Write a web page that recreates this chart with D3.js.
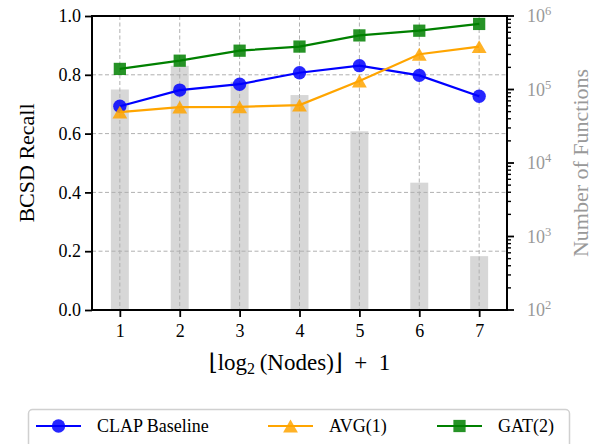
<!DOCTYPE html>
<html><head><meta charset="utf-8">
<script src="https://cdn.jsdelivr.net/npm/d3@7/dist/d3.min.js"></script>
<style>body{margin:0;background:#fff}svg{display:block}text{font-family:"Liberation Serif","DejaVu Serif",serif}</style>
</head><body>
<svg id="c" width="595" height="444"></svg>
<script>
const categories = [1, 2, 3, 4, 5, 6, 7];
const clapBaseline = [0.693, 0.748, 0.768, 0.807, 0.831, 0.798, 0.727];
const avg1 = [0.673, 0.690, 0.691, 0.697, 0.779, 0.870, 0.896];
const gat2 = [0.820, 0.848, 0.882, 0.896, 0.934, 0.950, 0.973];
const numFunctions = [100000, 210000, 127000, 84000, 27000, 5400, 540];
const leftTicks = [0, 0.2, 0.4, 0.6, 0.8, 1.0];
const rightTicks = [1e2, 1e3, 1e4, 1e5, 1e6];
const seriesNames = ["CLAP Baseline", "AVG(1)", "GAT(2)"];

const svg = d3.select("#c");
const L = 92, R = 507, T = 16, B = 310;
const x = d3.scaleLinear().domain([0.535, 7.465]).range([L, R]);
const y = d3.scaleLinear().domain([0, 1]).range([B, T]);
const y2 = d3.scaleLog().domain([1e2, 1e6]).range([B, T]);
const barW = x(1.15) - x(0.85);

// bars
svg.append("g").selectAll("rect").data(categories).join("rect")
  .attr("x", (d) => x(d) - barW / 2)
  .attr("width", barW)
  .attr("y", (d, i) => y2(numFunctions[i]))
  .attr("height", (d, i) => B - y2(numFunctions[i]))
  .attr("fill", "#d7d7d7");

// grid
const grid = svg.append("g").attr("stroke", "#b0b0b0").attr("stroke-width", 1).attr("stroke-dasharray", "4,2.5");
grid.selectAll(".gx").data(categories).join("line")
  .attr("x1", (d) => x(d)).attr("x2", (d) => x(d)).attr("y1", T).attr("y2", B);
grid.selectAll(".gy").data(leftTicks.slice(1, -1)).join("line")
  .attr("x1", L).attr("x2", R).attr("y1", (d) => y(d)).attr("y2", (d) => y(d));

// series
const series = [
  { name: seriesNames[0], vals: clapBaseline, color: "#0000ff", mark: d3.symbolCircle, size: 140 },
  { name: seriesNames[1], vals: avg1, color: "#ffa500", mark: d3.symbolTriangle, size: 95 },
  { name: seriesNames[2], vals: gat2, color: "#008000", mark: d3.symbolSquare, size: 150 }
];
const line = d3.line().x((d) => x(d[0])).y((d) => y(d[1]));
function drawMarker(g, s, cx, cy) {
  let sym = d3.symbol().type(s.mark).size(s.size);
  let dy = 0;
  if (s.mark === d3.symbolTriangle) {
    const r = Math.sqrt(s.size / (3 * Math.sqrt(3)));
    dy = r / 2;
  }
  g.append("path").attr("d", sym()).attr("transform", `translate(${cx},${cy + dy})`)
    .attr("fill", s.color).attr("fill-opacity", 0.85);
}
series.forEach((s) => {
  const pts = categories.map((c, i) => [c, s.vals[i]]);
  const g = svg.append("g");
  g.append("path").attr("d", line(pts)).attr("fill", "none").attr("stroke", s.color).attr("stroke-width", 2.2);
  pts.forEach((p) => drawMarker(g, s, x(p[0]), y(p[1])));
});

// frame
const ax = svg.append("g").attr("stroke", "#000").attr("stroke-width", 2);
ax.append("rect").attr("x", L).attr("y", T).attr("width", R - L).attr("height", B - T).attr("fill", "none");

// left axis
const gl = svg.append("g").attr("transform", `translate(${L},0)`)
  .call(d3.axisLeft(y).tickValues(leftTicks).tickFormat(d3.format(".1f")).tickSize(7).tickPadding(4));
gl.select(".domain").remove();
gl.selectAll(".tick line").attr("stroke-width", 1.8);
gl.selectAll("text").attr("font-size", 18).attr("fill", "#000").attr("font-family", "Liberation Serif");

// bottom axis
const gb = svg.append("g").attr("transform", `translate(0,${B})`)
  .call(d3.axisBottom(x).tickValues(categories).tickFormat(d3.format("d")).tickSize(7).tickPadding(7));
gb.select(".domain").remove();
gb.selectAll(".tick line").attr("stroke-width", 1.8);
gb.selectAll("text").attr("font-size", 18).attr("fill", "#000").attr("font-family", "Liberation Serif");

// right log axis
const gr = svg.append("g").attr("transform", `translate(${R},0)`);
const minor = [];
for (let e = 2; e < 6; e++) for (let m = 2; m <= 9; m++) minor.push(m * Math.pow(10, e));
gr.selectAll(".mn").data(minor).join("line")
  .attr("x1", 0).attr("x2", 4).attr("y1", (d) => y2(d)).attr("y2", (d) => y2(d))
  .attr("stroke", "#000").attr("stroke-width", 1.4);
gr.selectAll(".mj").data(rightTicks).join("line")
  .attr("x1", 0).attr("x2", 7).attr("y1", (d) => y2(d)).attr("y2", (d) => y2(d))
  .attr("stroke", "#000").attr("stroke-width", 1.8);
const rt = gr.selectAll(".rt").data(rightTicks).join("text")
  .attr("x", 20).attr("y", (d) => y2(d) + 6)
  .attr("font-size", 18).attr("fill", "#999");
rt.append("tspan").text("10");
rt.append("tspan").attr("dy", -7).attr("font-size", 12.5).text((d) => Math.round(Math.log10(d)));

// axis labels
svg.append("text").attr("transform", `translate(34,${(T + B) / 2}) rotate(-90)`)
  .attr("text-anchor", "middle").attr("font-size", 22).attr("fill", "#000").text("BCSD Recall");
svg.append("text").attr("transform", `translate(588,${(T + B) / 2}) rotate(-90)`)
  .attr("text-anchor", "middle").attr("font-size", 22).attr("fill", "#999").text("Number of Functions");

const xl = svg.append("text").attr("x", (L + R) / 2).attr("y", 370).attr("text-anchor", "middle")
  .attr("font-size", 23).attr("fill", "#000");
xl.append("tspan").text("⌊log");
xl.append("tspan").attr("dy", 4).attr("font-size", 16).text("2");
xl.append("tspan").attr("dy", -4).text("\u2009(Nodes)⌋\u2002+\u20021");

// legend
const lg = svg.append("g");
lg.append("rect").attr("x", 28.5).attr("y", 409.5).attr("width", 541).attr("height", 44).attr("rx", 4)
  .attr("fill", "#fff").attr("stroke", "#d0d0d0").attr("stroke-width", 1.5);
const legX = [36, 268, 437];
series.forEach((s, i) => {
  const g = lg.append("g");
  const ly = 426;
  g.append("line").attr("x1", legX[i]).attr("x2", legX[i] + 45).attr("y1", ly).attr("y2", ly)
    .attr("stroke", s.color).attr("stroke-width", 2.2);
  drawMarker(g, s, legX[i] + 22.5, ly);
  g.append("text").attr("x", legX[i] + 61).attr("y", ly + 6).attr("font-size", 18).attr("fill", "#000").text(s.name);
});
</script>
</body></html>
